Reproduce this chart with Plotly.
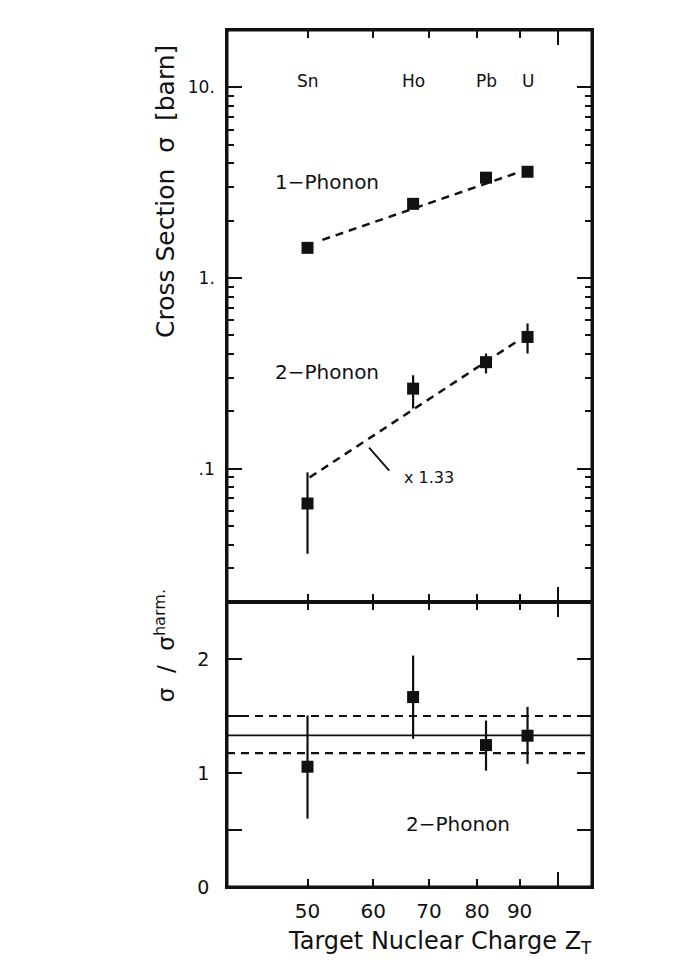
import math
import plotly.graph_objects as go

# ---------------- data ----------------
elements = ["Sn", "Ho", "Pb", "U"]
Z = [50, 67, 82, 92]

one_phonon = [1.44, 2.45, 3.36, 3.61]
two_phonon = [0.0657, 0.263, 0.362, 0.491]
two_hi = [0.0957, 0.309, 0.402, 0.578]
two_lo = [0.0358, 0.207, 0.316, 0.402]

fit1_Z = [52.1, 90.0]
fit1_sigma = [1.585, 3.60]
fit2_Z = [50.3, 89.0]
fit2_sigma = [0.090, 0.46]

ratio = [1.055, 1.666, 1.245, 1.327]
ratio_hi = [1.504, 2.03, 1.46, 1.58]
ratio_lo = [0.60, 1.30, 1.02, 1.08]
ratio_mean = 1.33
ratio_band = [1.175, 1.50]

scale_text = "x 1.33"
scale_Z = 65.0
scale_sigma = 0.0897
lead_Z = [59.3, 62.7]
lead_sigma = [0.129, 0.0976]

label1_Z, label1_sigma = 45.4, 3.2
label2_Z, label2_sigma = 45.4, 0.32
label3_Z, label3_ratio = 65.4, 0.55
element_sigma = 10.75

x_major = [50, 60, 70, 80, 90]
x_major_text = ["50", "60", "70", "80", "90"]
x_long = [100]
y_major = [0.1, 1, 10]
y_major_text = [".1", "1.", "10."]
y_minor = [m * d for d in (0.01, 0.1, 1) for m in range(2, 10)] + [20]
r_major = [0, 1, 2]
r_major_text = ["0", "1", "2"]
r_minor = [0.5, 1.5, 2.5]

# ---------------- figure ----------------
FONT = "DejaVu Sans"
INK = "#111111"
split = 0.3326

fig = go.Figure()

dash = "8px,6px"
fig.add_trace(go.Scatter(x=fit1_Z, y=fit1_sigma, mode="lines",
                         line=dict(color=INK, width=2.5, dash=dash),
                         xaxis="x", yaxis="y", showlegend=False))
fig.add_trace(go.Scatter(x=fit2_Z, y=fit2_sigma, mode="lines",
                         line=dict(color=INK, width=2.5, dash=dash),
                         xaxis="x", yaxis="y", showlegend=False))
fig.add_trace(go.Scatter(x=lead_Z, y=lead_sigma, mode="lines",
                         line=dict(color=INK, width=1.8),
                         xaxis="x", yaxis="y", showlegend=False))

fig.add_trace(go.Scatter(x=Z, y=one_phonon, mode="markers",
                         marker=dict(symbol="square", size=12, color=INK),
                         xaxis="x", yaxis="y", showlegend=False))
fig.add_trace(go.Scatter(
    x=Z, y=two_phonon, mode="markers",
    marker=dict(symbol="square", size=12, color=INK),
    error_y=dict(type="data", symmetric=False,
                 array=[h - v for h, v in zip(two_hi, two_phonon)],
                 arrayminus=[v - l for v, l in zip(two_phonon, two_lo)],
                 color=INK, thickness=2.2, width=0),
    xaxis="x", yaxis="y", showlegend=False))

fig.add_trace(go.Scatter(
    x=Z, y=ratio, mode="markers",
    marker=dict(symbol="square", size=12, color=INK),
    error_y=dict(type="data", symmetric=False,
                 array=[h - v for h, v in zip(ratio_hi, ratio)],
                 arrayminus=[v - l for v, l in zip(ratio, ratio_lo)],
                 color=INK, thickness=2.2, width=0),
    xaxis="x2", yaxis="y2", showlegend=False))

# horizontal reference lines in lower panel
fig.add_shape(type="line", xref="x2 domain", yref="y2", x0=0, x1=1,
              y0=ratio_mean, y1=ratio_mean, line=dict(color=INK, width=1.8), layer="below")
for b in ratio_band:
    fig.add_shape(type="line", xref="x2 domain", yref="y2", x0=0, x1=1,
                  y0=b, y1=b, line=dict(color=INK, width=2.2, dash="8px,6px"), layer="below")

# outer frame
fig.add_shape(type="rect", xref="paper", yref="paper", x0=0, x1=1, y0=0, y1=1,
              line=dict(color=INK, width=3))

xr = [math.log10(40), math.log10(110)]
common_x = dict(type="log", range=xr, showgrid=False, zeroline=False,
                showline=True, linecolor=INK, linewidth=1.6, mirror="ticks",
                ticks="inside", tickvals=x_major, ticktext=x_major_text,
                ticklen=8, tickwidth=2, tickcolor=INK,
                minor=dict(tickmode="array", tickvals=x_long, ticks="inside",
                           ticklen=15, tickwidth=2, tickcolor=INK, showgrid=False))

fig.update_layout(
    width=691, height=968,
    margin=dict(l=227, r=99, t=30, b=81),
    paper_bgcolor="white", plot_bgcolor="white",
    font=dict(family=FONT, color=INK),
    xaxis=dict(**common_x, anchor="y", domain=[0, 1], showticklabels=False),
    xaxis2=dict(**common_x, anchor="y2", domain=[0, 1], matches="x",
                showticklabels=True, tickfont=dict(size=20), ticklabelstandoff=5),
    yaxis=dict(type="log", domain=[split, 1], anchor="x",
               range=[math.log10(0.02), math.log10(20)],
               showgrid=False, zeroline=False, showline=True, linecolor=INK,
               linewidth=1.6, mirror="ticks", ticks="inside",
               tickvals=y_major, ticktext=y_major_text, ticklen=15, tickwidth=2,
               tickcolor=INK, tickfont=dict(size=17), ticklabelstandoff=7,
               minor=dict(tickmode="array", tickvals=y_minor, ticks="inside",
                          ticklen=7, tickwidth=2, tickcolor=INK, showgrid=False)),
    yaxis2=dict(domain=[0, split], anchor="x2", range=[0, 2.5],
                showgrid=False, zeroline=False, showline=True, linecolor=INK,
                linewidth=1.6, mirror="ticks", ticks="inside",
                tickvals=r_major, ticktext=r_major_text, ticklen=15, tickwidth=2,
                tickcolor=INK, tickfont=dict(size=19), ticklabelstandoff=12,
                minor=dict(tickmode="array", tickvals=r_minor, ticks="inside",
                           ticklen=15, tickwidth=2, tickcolor=INK, showgrid=False)),
)

ann = []
for el, z in zip(elements, Z):
    ann.append(dict(x=math.log10(z), y=math.log10(element_sigma), xref="x", yref="y",
                    text=el, showarrow=False, font=dict(size=17),
                    xanchor="center", yanchor="middle"))
ann.append(dict(x=math.log10(label1_Z), y=math.log10(label1_sigma), xref="x", yref="y",
                text="1\u2212Phonon", showarrow=False, xanchor="left", yanchor="middle",
                font=dict(size=20)))
ann.append(dict(x=math.log10(label2_Z), y=math.log10(label2_sigma), xref="x", yref="y",
                text="2\u2212Phonon", showarrow=False, xanchor="left", yanchor="middle",
                font=dict(size=20)))
ann.append(dict(x=math.log10(scale_Z), y=math.log10(scale_sigma), xref="x", yref="y",
                text=scale_text, showarrow=False, xanchor="left", yanchor="middle",
                font=dict(size=16)))
ann.append(dict(x=math.log10(label3_Z), y=label3_ratio, xref="x2", yref="y2",
                text="2\u2212Phonon", showarrow=False, xanchor="left", yanchor="middle",
                font=dict(size=20)))
ann.append(dict(x=-0.167, y=0.811, xref="paper", yref="paper", textangle=-90,
                xanchor="center", yanchor="middle",
                text="Cross Section  \u03c3  [barn]", showarrow=False, font=dict(size=25)))
ann.append(dict(x=-0.170, y=0.282, xref="paper", yref="paper", textangle=-90,
                xanchor="center", yanchor="middle",
                text="\u03c3  /  \u03c3<sup>harm.</sup>", showarrow=False, font=dict(size=23)))
ann.append(dict(x=0.584, y=-0.065, xref="paper", yref="paper",
                xanchor="center", yanchor="middle",
                text="Target Nuclear Charge Z<sub>T</sub>", showarrow=False,
                font=dict(size=24)))
fig.update_layout(annotations=ann)

fig.write_html("out.html")
